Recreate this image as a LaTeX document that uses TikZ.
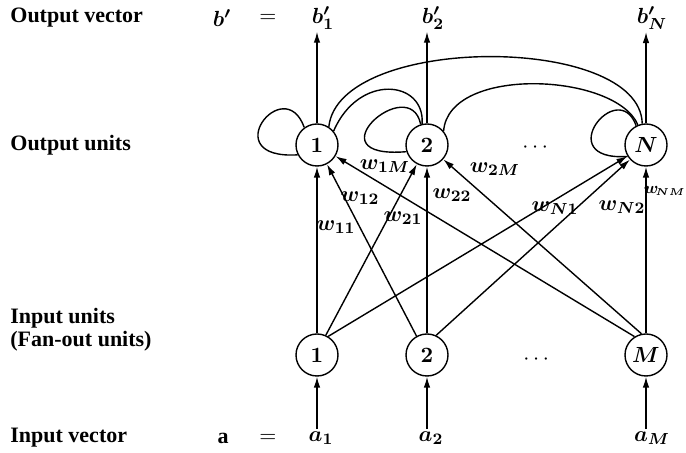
\documentclass[tikz,border=0pt]{standalone}
\usepackage{amsmath,bm}
\usepackage{fontspec}
\setmainfont{Liberation Serif}
\usetikzlibrary{arrows.meta}
\begin{document}
\begin{tikzpicture}[x=0.5pt,y=-0.5pt,
  font=\fontsize{11}{13}\selectfont,
  unit/.style={circle,draw,line width=0.7pt,minimum size=21pt,inner sep=0pt},
  conn/.style={line width=0.7pt,-{Latex[length=5.5pt,width=3.3pt]}},
  plain/.style={line width=0.7pt},
  lbl/.style={font=\fontsize{11}{13}\selectfont\bfseries,anchor=west,inner sep=0pt},
  vlab/.style={inner sep=1pt},
  wl/.style={inner sep=0pt}]
\useasboundingbox (0,0) rectangle (686,453);

% left texts
\node[lbl] (t1) at (10,18) {Output vector};
\node[lbl] (t2) at (10,145) {Output units};
\node[lbl] (t3) at (10,318) {Input units};
\node[lbl] (t4) at (10,341) {(Fan-out units)};
\node[lbl] (t5) at (10,438) {Input vector};

% vectors
\node[vlab] (bv) at (222,18) {$\bm{b'}$};
\node[vlab] (eq1) at (268,18) {$=$};
\node[vlab] (b1) at (323,18) {$\bm{b'_1}$};
\node[vlab] (b2) at (433,18) {$\bm{b'_2}$};
\node[vlab] (bN) at (652,18) {$\bm{b'_N}$};

\node[vlab] (av) at (223,438) {$\mathbf{a}$};
\node[vlab] (eq2) at (268,438) {$=$};
\node[vlab] (a1) at (321,438) {$\bm{a_1}$};
\node[vlab] (a2) at (431,438) {$\bm{a_2}$};
\node[vlab] (aM) at (652,438) {$\bm{a_M}$};

% units
\node[unit] (o1) at (317,145) {$\bm{1}$};
\node[unit] (o2) at (427,145) {$\bm{2}$};
\node[unit] (oN) at (646,145) {$\bm{N}$};
\node[unit] (i1) at (317,355) {$\bm{1}$};
\node[unit] (i2) at (427,355) {$\bm{2}$};
\node[unit] (iM) at (646,355) {$\bm{M}$};
\node (od) at (537,148) {$\cdots$};
\node (id) at (538,360) {$\cdots$};

% output arrows
\draw[conn] (o1.north) -- (o1.north |- b1.south);
\draw[conn] (o2.north) -- (o2.north |- b2.south);
\draw[conn] (oN.north) -- (oN.north |- bN.south);

% input arrows
\draw[conn] (a1.north -| i1) -- (i1.south);
\draw[conn] (a2.north -| i2) -- (i2.south);
\draw[conn] (aM.north -| iM) -- (iM.south);

% feed-forward weights
\draw[conn] (i1.north) -- (o1);
\draw[conn] (i2.119) -- (o1);
\draw[conn] (iM.122) -- (o1);
\draw[conn] (i1.66) -- (o2);
\draw[conn] (i2.north) -- (o2);
\draw[conn] (iM.102) -- (o2);
\draw[conn] (i1.59) -- (oN);
\draw[conn] (i2.65) -- (oN);
\draw[conn] (iM.north) -- (oN);

% weight labels
\node[wl] (w11) at (336,227) {$\bm{w_{11}}$};
\node[wl] (w12) at (360,198) {$\bm{w_{12}}$};
\node[wl] (w1M) at (385,166) {$\bm{w_{1M}}$};
\node[wl] (w21) at (403,218) {$\bm{w_{21}}$};
\node[wl] (w22) at (452,195) {$\bm{w_{22}}$};
\node[wl] (w2M) at (495,169) {$\bm{w_{2M}}$};
\node[wl] (wN1) at (555,208) {$\bm{w_{N1}}$};
\node[wl] (wN2) at (622,207) {$\bm{w_{N2}}$};
\node[wl,anchor=east,font=\fontsize{8.5}{10}\selectfont] (wNM) at (686,191) {$\bm{w}_{\!\scriptscriptstyle\bm{NM}}$};

% self loops
\draw[plain] (o1.126) .. controls +(-20,-56) and +(-83,5) .. (o1.207);
\draw[plain] (o2.107) .. controls +(-11,-53) and +(-97,8) .. (o2.198);
\draw[plain] (oN.117) .. controls +(-18,-50) and +(-78,5) .. (oN.212);

% lateral connections
\draw[plain] (o1.57) .. controls +(10,-93) and +(-2,-90) .. (oN.100);
\draw[plain] (o1.40) .. controls +(25,-58) and +(3,-44) .. (o2.103);
\draw[plain] (o2.40) .. controls +(5,-66) and +(-22,-52) .. (oN.112);
\end{tikzpicture}
\end{document}
